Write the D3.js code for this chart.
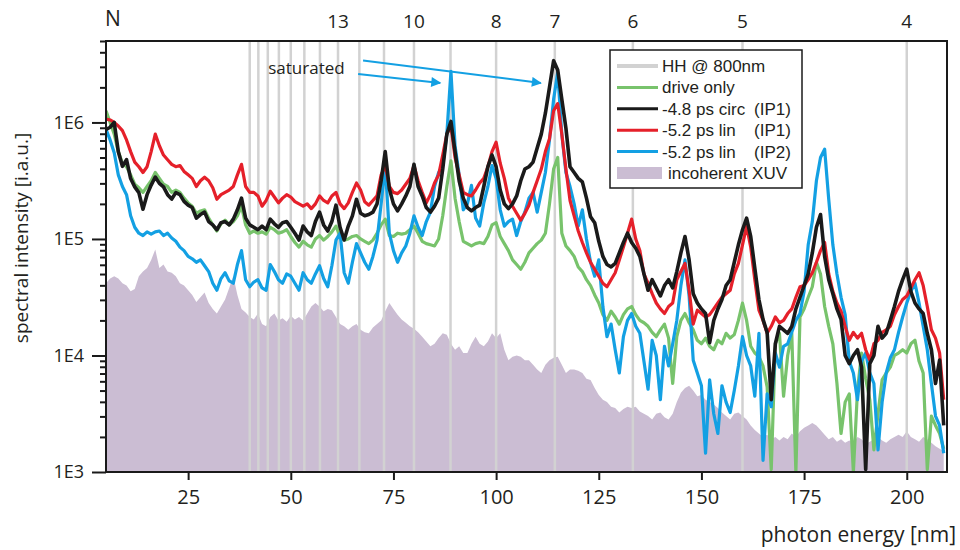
<!DOCTYPE html>
<html>
<head>
<meta charset="utf-8">
<script src="https://cdn.jsdelivr.net/npm/d3@7"></script>
<style>
  body { margin: 0; background: #fff; }
  text { font-family: "Open Sans", "Noto Sans", sans-serif; fill: #231f20; }
  .legend text { font-family: "Liberation Sans", Arial, sans-serif; }
</style>
</head>
<body>
<div id="chart"></div>
<script>
// wavelength grid: one sample per nm, starting at 5 nm
var nmStart = 5;

// spectra, spectral intensity [i.a.u.] for 5..209 nm
var driveOnly = [
  1.26e6, 1.0e6, 7.94e5, 5.62e5, 4.47e5, 4.17e5, 3.55e5, 2.95e5, 2.75e5, 2.51e5,
  2.82e5, 3.16e5, 3.72e5, 3.31e5, 2.95e5, 2.82e5, 2.51e5, 2.63e5, 2.51e5, 2.24e5,
  2.04e5, 1.91e5, 1.66e5, 1.74e5, 1.78e5, 1.51e5, 1.32e5, 1.17e5, 1.35e5, 1.45e5,
  1.32e5, 1.41e5, 1.58e5, 1.91e5, 1.32e5, 1.12e5, 1.17e5, 1.12e5, 1.15e5, 1.1e5,
  1.26e5, 1.2e5, 1.12e5, 1.15e5, 1.2e5, 1.05e5, 9.33e4, 8.51e4, 9.55e4, 8.91e4,
  8.51e4, 1.0e5, 1.07e5, 9.77e4, 1.05e5, 1.15e5, 1.29e5, 1.05e5, 9.77e4, 1.0e5,
  1.05e5, 1.07e5, 1.0e5, 9.55e4, 9.12e4, 9.77e4, 1.12e5, 1.32e5, 1.48e5, 1.07e5,
  1.05e5, 1.12e5, 1.1e5, 1.12e5, 1.2e5, 1.29e5, 1.12e5, 9.55e4, 9.12e4, 8.91e4,
  8.71e4, 1.0e5, 1.58e5, 2.82e5, 4.68e5, 2.24e5, 1.41e5, 9.55e4, 9.12e4, 8.71e4,
  9.12e4, 9.33e4, 9.12e4, 1.05e5, 1.32e5, 1.38e5, 1.05e5, 9.12e4, 7.94e4, 6.61e4,
  6.03e4, 5.5e4, 6.31e4, 7.59e4, 8.32e4, 9.12e4, 9.77e4, 1.12e5, 2.0e5, 3.98e5,
  5.01e5, 1.12e5, 8.71e4, 7.94e4, 7.08e4, 5.75e4, 5.25e4, 4.47e4, 3.98e4, 3.31e4,
  2.82e4, 2.24e4, 2.0e4, 2.4e4, 2.14e4, 1.86e4, 2.24e4, 2.51e4, 2.63e4, 2.24e4,
  2.0e4, 1.91e4, 1.78e4, 1.58e4, 1.45e4, 1.66e4, 1.86e4, 1.41e4, 5.75e3, 1.45e4,
  2.0e4, 2.29e4, 1.91e4, 1.66e4, 1.35e4, 1.26e4, 1.41e4, 1.2e4, 1.12e4, 1.35e4,
  1.26e4, 1.55e4, 1.41e4, 1.51e4, 2.0e4, 2.82e4, 2.0e4, 1.2e4, 1.05e4, 9.77e3,
  8.13e3, 5.37e3, 1.05e3, 1.26e4, 1.55e4, 4.47e3, 1.0e4, 1.55e4, 1.0e3, 2.14e4,
  2.51e4, 3.16e4, 3.89e4, 6.31e4, 5.01e4, 2.63e4, 1.78e4, 1.26e4, 5.75e3, 2.14e3,
  3.98e3, 4.68e3, 1.0e3, 5.01e3, 1.05e4, 6.31e3, 4.17e3, 1.55e3, 3.16e3, 6.17e3,
  7.08e3, 7.94e3, 1.0e4, 1.05e4, 1.12e4, 1.05e4, 1.26e4, 1.35e4, 8.91e3, 7.08e3,
  1.05e3, 3.02e3, 2.51e3, 2.14e3, 1.58e3
];

var circIP1 = [
  8.7e5, 9.1e5, 1.0e6, 5.6e5, 4.2e5, 4.8e5, 3.3e5, 2.8e5, 2.5e5, 1.8e5,
  2.4e5, 2.9e5, 3.4e5, 3.0e5, 2.8e5, 2.4e5, 2.2e5, 2.5e5, 2.4e5, 2.1e5,
  1.95e5, 1.86e5, 1.51e5, 1.62e5, 1.7e5, 1.41e5, 1.32e5, 1.2e5, 1.38e5, 1.41e5,
  1.32e5, 1.48e5, 1.78e5, 2.24e5, 1.51e5, 1.32e5, 1.26e5, 1.2e5, 1.29e5, 1.2e5,
  1.48e5, 1.35e5, 1.26e5, 1.38e5, 1.41e5, 1.26e5, 1.12e5, 9.8e4, 1.29e5, 1.15e5,
  1.07e5, 1.41e5, 1.7e5, 1.32e5, 1.17e5, 1.41e5, 1.95e5, 1.26e5, 9.8e4, 1.29e5,
  1.58e5, 2.19e5, 1.66e5, 1.58e5, 1.62e5, 1.7e5, 2.0e5, 3.16e5, 5.62e5, 2.69e5,
  2.0e5, 1.74e5, 2.0e5, 2.34e5, 2.82e5, 4.37e5, 2.82e5, 2.34e5, 1.86e5, 1.7e5,
  1.91e5, 2.24e5, 3.98e5, 7.94e5, 1.02e6, 5.62e5, 3.16e5, 2.24e5, 1.86e5, 1.74e5,
  1.86e5, 1.95e5, 2.82e5, 4.17e5, 5.25e5, 4.17e5, 2.63e5, 2.0e5, 1.82e5, 2.0e5,
  2.34e5, 3.16e5, 3.98e5, 4.17e5, 4.57e5, 6.03e5, 7.94e5, 1.2e6, 2.0e6, 3.39e6,
  2.82e6, 1.58e6, 8.91e5, 4.17e5, 3.72e5, 3.31e5, 3.09e5, 2.24e5, 1.55e5, 1.38e5,
  9.55e4, 7.08e4, 6.03e4, 5.75e4, 6.17e4, 7.59e4, 9.33e4, 1.12e5, 9.33e4, 8.32e4,
  7.08e4, 5.01e4, 3.63e4, 4.47e4, 3.8e4, 3.24e4, 3.98e4, 4.47e4, 3.8e4, 5.25e4,
  7.59e4, 1.05e5, 6.61e4, 3.39e4, 2.82e4, 2.51e4, 2.29e4, 1.29e4, 2.0e4, 2.51e4,
  3.02e4, 3.98e4, 4.47e4, 6.31e4, 8.91e4, 1.2e5, 1.51e5, 1.05e5, 5.62e4, 3.02e4,
  2.04e4, 1.58e4, 4.17e3, 1.26e4, 1.78e4, 1.66e4, 1.55e4, 1.78e4, 2.51e4, 3.16e4,
  3.98e4, 5.01e4, 7.59e4, 1.26e5, 1.62e5, 7.08e4, 4.47e4, 3.39e4, 2.51e4, 2.04e4,
  1.0e4, 8.51e3, 1.0e4, 1.12e4, 7.94e3, 1.05e3, 8.51e3, 1.0e4, 1.78e4, 1.41e4,
  1.55e4, 2.0e4, 2.63e4, 3.55e4, 4.47e4, 5.5e4, 3.55e4, 2.82e4, 2.51e4, 2.29e4,
  1.55e4, 1.12e4, 5.75e3, 9.12e3, 2.51e3
];

var linIP1 = [
  1.07e6, 1.05e6, 1.0e6, 9.33e5, 8.51e5, 7.08e5, 5.62e5, 4.57e5, 4.17e5, 3.72e5,
  4.17e5, 5.62e5, 7.94e5, 6.31e5, 5.25e5, 4.79e5, 4.37e5, 4.17e5, 4.27e5, 3.8e5,
  3.55e5, 3.31e5, 2.82e5, 3.16e5, 3.39e5, 3.16e5, 2.75e5, 2.19e5, 2.4e5, 2.51e5,
  2.63e5, 2.82e5, 3.55e5, 4.37e5, 2.82e5, 2.51e5, 2.51e5, 2.34e5, 1.91e5, 2.14e5,
  2.57e5, 2.29e5, 2.04e5, 2.24e5, 2.4e5, 2.29e5, 2.09e5, 2.0e5, 1.91e5, 2.0e5,
  1.82e5, 2.0e5, 2.34e5, 2.14e5, 2.04e5, 2.34e5, 2.51e5, 2.0e5, 1.82e5, 2.04e5,
  2.51e5, 3.02e5, 2.63e5, 2.09e5, 1.95e5, 2.14e5, 2.34e5, 3.55e5, 4.27e5, 2.82e5,
  2.51e5, 2.45e5, 2.63e5, 2.95e5, 3.31e5, 4.27e5, 3.16e5, 2.51e5, 2.04e5, 2.4e5,
  3.02e5, 3.55e5, 5.25e5, 7.94e5, 9.33e5, 5.01e5, 3.55e5, 2.51e5, 2.4e5, 2.34e5,
  2.63e5, 3.02e5, 3.31e5, 4.17e5, 5.62e5, 6.76e5, 4.47e5, 3.31e5, 2.24e5, 1.91e5,
  1.66e5, 1.45e5, 1.66e5, 1.95e5, 2.51e5, 3.16e5, 3.98e5, 5.62e5, 7.24e5, 1.26e6,
  1.45e6, 7.94e5, 3.98e5, 2.14e5, 1.58e5, 1.17e5, 9.33e4, 7.59e4, 6.31e4, 5.5e4,
  4.79e4, 4.17e4, 3.89e4, 4.47e4, 5.13e4, 6.61e4, 8.51e4, 1.12e5, 1.48e5, 1.0e5,
  7.94e4, 5.01e4, 4.17e4, 3.39e4, 2.82e4, 2.51e4, 2.29e4, 2.63e4, 2.82e4, 4.47e4,
  5.25e4, 6.17e4, 3.63e4, 1.86e4, 2.45e4, 2.29e4, 2.14e4, 2.24e4, 2.51e4, 2.82e4,
  3.16e4, 3.39e4, 3.63e4, 5.01e4, 6.17e4, 8.91e4, 1.29e5, 8.51e4, 4.47e4, 2.45e4,
  2.0e4, 1.55e4, 1.78e4, 2.14e4, 1.91e4, 2.0e4, 2.29e4, 2.51e4, 3.16e4, 3.89e4,
  3.98e4, 4.47e4, 5.13e4, 6.31e4, 7.94e4, 9.33e4, 5.01e4, 3.55e4, 2.82e4, 2.4e4,
  1.78e4, 1.35e4, 1.58e4, 1.41e4, 1.55e4, 1.12e4, 9.12e3, 1.26e4, 1.35e4, 1.58e4,
  1.66e4, 1.78e4, 2.24e4, 2.63e4, 3.02e4, 3.24e4, 3.8e4, 4.47e4, 5.13e4, 3.98e4,
  2.63e4, 1.66e4, 1.41e4, 1.05e4, 4.17e3
];

var linIP2 = [
  8.71e5, 7.08e5, 5.5e5, 3.55e5, 2.82e5, 2.4e5, 1.58e5, 1.26e5, 1.12e5, 1.07e5,
  1.15e5, 1.1e5, 1.15e5, 1.17e5, 1.07e5, 1.12e5, 1.02e5, 9.55e4, 8.51e4, 7.94e4,
  7.08e4, 6.76e4, 6.31e4, 6.61e4, 5.89e4, 5.25e4, 4.17e4, 3.63e4, 4.57e4, 5.13e4,
  4.37e4, 4.17e4, 6.03e4, 7.94e4, 4.47e4, 3.89e4, 4.27e4, 4.47e4, 3.8e4, 3.63e4,
  6.03e4, 5.25e4, 4.47e4, 4.17e4, 5.01e4, 4.79e4, 4.17e4, 3.63e4, 5.13e4, 4.47e4,
  4.17e4, 5.01e4, 5.89e4, 4.57e4, 3.89e4, 5.89e4, 9.77e4, 1.12e5, 5.13e4, 4.17e4,
  6.31e4, 9.12e4, 7.59e4, 6.31e4, 5.5e4, 7.08e4, 9.77e4, 2.0e5, 4.27e5, 1.12e5,
  7.94e4, 6.31e4, 7.59e4, 8.71e4, 1.12e5, 1.58e5, 1.26e5, 1.07e5, 1.41e5, 1.7e5,
  2.82e5, 3.72e5, 4.27e5, 7.94e5, 2.75e6, 6.31e5, 3.55e5, 1.78e5, 2.0e5, 2.88e5,
  1.51e5, 1.29e5, 2.04e5, 2.82e5, 4.27e5, 3.31e5, 1.78e5, 1.29e5, 1.41e5, 1.48e5,
  1.07e5, 1.41e5, 1.7e5, 2.24e5, 2.51e5, 1.7e5, 2.51e5, 3.72e5, 7.08e5, 1.58e6,
  2.69e6, 7.94e5, 3.72e5, 2.82e5, 2.0e5, 1.29e5, 1.78e5, 1.0e5, 6.31e4, 4.79e4,
  6.61e4, 2.63e4, 1.45e4, 1.86e4, 1.12e4, 7.08e3, 1.45e4, 2.0e4, 2.29e4, 1.78e4,
  1.55e4, 8.91e3, 5.13e3, 1.35e4, 1.0e4, 4.17e3, 1.2e4, 8.13e3, 1.26e4, 2.0e4,
  3.98e4, 6.61e4, 3.24e4, 9.12e3, 7.08e3, 5.5e3, 1.45e3, 6.17e3, 3.16e3, 2.14e3,
  5.5e3, 3.98e3, 3.24e3, 5.01e3, 8.13e3, 1.45e4, 1.0e4, 8.13e3, 4.47e3, 1.55e4,
  1.26e3, 4.68e3, 3.63e3, 1.05e4, 7.94e3, 1.2e4, 1.26e4, 1.58e4, 2.0e4, 2.29e4,
  3.55e4, 8.91e4, 1.41e5, 3.16e5, 5.01e5, 5.89e5, 2.19e5, 8.91e4, 5.01e4, 3.16e4,
  2.24e4, 8.91e3, 7.08e3, 4.17e3, 8.91e3, 1.05e4, 7.08e3, 5.75e3, 1.55e3, 3.98e3,
  7.08e3, 9.55e3, 1.12e4, 1.58e4, 2.14e4, 2.82e4, 3.55e4, 4.17e4, 2.82e4, 1.78e4,
  1.12e4, 5.75e3, 3.02e3, 2.51e3, 1.45e3
];

var incoherentXUV = [
  4.17e4, 4.57e4, 4.79e4, 4.57e4, 4.17e4, 3.98e4, 3.55e4, 3.72e4, 4.79e4, 5.25e4,
  5.62e4, 6.61e4, 8.13e4, 5.62e4, 6.03e4, 5.25e4, 5.13e4, 4.79e4, 4.17e4, 3.98e4,
  3.63e4, 3.31e4, 2.88e4, 3.16e4, 3.47e4, 2.82e4, 2.51e4, 2.29e4, 2.63e4, 3.02e4,
  3.8e4, 4.79e4, 3.31e4, 2.51e4, 2.34e4, 2.14e4, 2.04e4, 2.29e4, 1.86e4, 1.78e4,
  2.14e4, 2.29e4, 2.0e4, 2.09e4, 1.95e4, 2.19e4, 2.04e4, 2.14e4, 2.0e4, 2.29e4,
  2.63e4, 2.82e4, 2.63e4, 2.4e4, 2.51e4, 2.45e4, 2.14e4, 1.86e4, 1.78e4, 1.66e4,
  1.78e4, 1.86e4, 1.66e4, 1.58e4, 1.55e4, 1.74e4, 1.86e4, 2.0e4, 2.4e4, 2.82e4,
  2.51e4, 2.24e4, 2.04e4, 1.91e4, 1.78e4, 1.7e4, 1.58e4, 1.45e4, 1.32e4, 1.2e4,
  1.26e4, 1.41e4, 1.55e4, 1.51e4, 1.26e4, 1.12e4, 1.2e4, 1.05e4, 1.05e4, 1.26e4,
  1.45e4, 1.26e4, 1.2e4, 1.32e4, 1.55e4, 1.41e4, 1.55e4, 1.12e4, 9.12e3, 9.77e3,
  1.0e4, 9.77e3, 9.12e3, 9.12e3, 8.32e3, 7.59e3, 7.08e3, 8.32e3, 9.12e3, 9.55e3,
  9.77e3, 8.32e3, 7.08e3, 7.59e3, 7.59e3, 7.41e3, 7.08e3, 6.31e3, 6.17e3, 5.25e3,
  4.57e3, 4.17e3, 3.98e3, 3.63e3, 3.55e3, 3.24e3, 3.47e3, 3.63e3, 3.55e3, 3.63e3,
  3.31e3, 3.16e3, 3.02e3, 2.82e3, 3.16e3, 3.24e3, 2.95e3, 2.82e3, 3.16e3, 3.98e3,
  4.79e3, 5.25e3, 5.5e3, 5.01e3, 4.47e3, 4.57e3, 4.17e3, 3.98e3, 3.8e3, 3.55e3,
  3.24e3, 3.02e3, 2.82e3, 3.16e3, 3.24e3, 3.02e3, 2.82e3, 2.51e3, 2.29e3, 2.14e3,
  2.0e3, 2.09e3, 1.91e3, 2.0e3, 1.86e3, 2.0e3, 1.91e3, 2.14e3, 2.0e3, 2.24e3,
  2.4e3, 2.51e3, 2.63e3, 2.51e3, 2.29e3, 2.09e3, 1.91e3, 2.0e3, 1.82e3, 1.91e3,
  1.78e3, 1.86e3, 1.78e3, 2.0e3, 1.91e3, 1.74e3, 1.82e3, 1.91e3, 2.0e3, 1.86e3,
  1.78e3, 1.91e3, 2.0e3, 2.09e3, 2.0e3, 2.24e3, 2.0e3, 1.91e3, 1.82e3, 2.0e3,
  1.91e3, 1.78e3, 1.66e3, 1.58e3, 1.51e3
];

// harmonics of 800 nm (wavelength in nm) and the orders labelled on top
var hhWavelengths = [200, 160, 133.3, 114.3, 100, 88.9, 80, 72.7, 66.7, 61.5, 57.1, 53.3, 50, 47.1, 44.4, 42.1, 40];
var orderLabels = ["13", "10", "8", "7", "6", "5", "4"];
var orderLabelNm = [61.5, 80, 100, 114.3, 133.3, 160, 200];

var xTicks = [25, 50, 75, 100, 125, 150, 175, 200];
var yTicks = [1e3, 1e4, 1e5, 1e6];

var seriesNames = ["HH @ 800nm", "drive only", "-4.8 ps circ", "-5.2 ps lin", "-5.2 ps lin", "incoherent XUV"];
var seriesTags = ["", "", "(IP1)", "(IP1)", "(IP2)", ""];
var seriesColors = ["#d2d2d2", "#78c36c", "#1a1a1a", "#e5202a", "#13a0e3", "#cbbdd3"];

// Set up chart
var svgWidth = 960;
var svgHeight = 550;
var margin = { top: 41, right: 13, bottom: 78, left: 106 };
var width = svgWidth - margin.left - margin.right;
var height = svgHeight - margin.top - margin.bottom;

var svg = d3.select("#chart")
  .append("svg")
  .attr("width", svgWidth)
  .attr("height", svgHeight);

var chartGroup = svg.append("g")
  .attr("transform", `translate(${margin.left}, ${margin.top})`);

// Scales
var xScale = d3.scaleLinear().domain([5, 209.8]).range([0, width]);
var yScale = d3.scaleLog().domain([1e3, 5e6]).range([height, 0]);

chartGroup.append("clipPath").attr("id", "plotClip")
  .append("rect").attr("width", width).attr("height", height);

var plot = chartGroup.append("g").attr("clip-path", "url(#plotClip)");

function toPoints(values) {
  return values.map((v, i) => ({ nm: nmStart + i, v: v }));
}

// incoherent XUV background
var area = d3.area()
  .x(d => xScale(d.nm))
  .y0(height)
  .y1(d => yScale(d.v));

plot.append("path")
  .datum(toPoints(incoherentXUV))
  .attr("d", area)
  .attr("fill", seriesColors[5]);

// harmonic lines
plot.selectAll(".hh")
  .data(hhWavelengths)
  .enter()
  .append("line")
  .attr("x1", d => xScale(d))
  .attr("x2", d => xScale(d))
  .attr("y1", 0)
  .attr("y2", height)
  .attr("stroke", seriesColors[0])
  .attr("stroke-width", 2.5);

// spectra
var line = d3.line()
  .x(d => xScale(d.nm))
  .y(d => yScale(Math.max(d.v, 800)));

var spectra = [
  { values: driveOnly, color: seriesColors[1], w: 3.2 },
  { values: linIP2, color: seriesColors[4], w: 3.2 },
  { values: linIP1, color: seriesColors[3], w: 3.2 },
  { values: circIP1, color: seriesColors[2], w: 3.6 }
];

spectra.forEach(function(s) {
  plot.append("path")
    .datum(toPoints(s.values))
    .attr("d", line)
    .attr("fill", "none")
    .attr("stroke", s.color)
    .attr("stroke-width", s.w)
    .attr("stroke-linejoin", "round");
});

// frame
chartGroup.append("rect")
  .attr("width", width)
  .attr("height", height)
  .attr("fill", "none")
  .attr("stroke", "#1a1a1a")
  .attr("stroke-width", 2);

// bottom axis
var bottomAxis = d3.axisBottom(xScale).tickValues(xTicks).tickSize(8).tickSizeOuter(0).tickPadding(10);
var bx = chartGroup.append("g").attr("transform", `translate(0, ${height})`).call(bottomAxis);
bx.select(".domain").remove();
bx.selectAll("line").attr("stroke", "#1a1a1a").attr("stroke-width", 2);
bx.selectAll("text").attr("font-size", "20px").attr("font-family", "Open Sans");

// left axis: majors + minors
var minorTicks = [];
yTicks.forEach(function(t) {
  [2, 3, 4, 5, 6, 7, 8, 9].forEach(function(m) {
    if (t * m <= 5e6) minorTicks.push(t * m);
  });
});
var leftMinor = d3.axisLeft(yScale).tickValues(minorTicks).tickSize(6).tickFormat("");
var lm = chartGroup.append("g").call(leftMinor);
lm.select(".domain").remove();
lm.selectAll("line").attr("stroke", "#1a1a1a").attr("stroke-width", 2);

var leftAxis = d3.axisLeft(yScale).tickValues(yTicks).tickSize(14).tickPadding(8)
  .tickFormat(d => "1E" + Math.round(Math.log10(d)));
var ly = chartGroup.append("g").call(leftAxis);
ly.select(".domain").remove();
ly.selectAll("line").attr("stroke", "#1a1a1a").attr("stroke-width", 2);
ly.selectAll("text").attr("font-size", "18px").attr("font-family", "Open Sans");

// top order labels
chartGroup.selectAll(".order")
  .data(orderLabels)
  .enter()
  .append("text")
  .attr("x", (d, i) => xScale(orderLabelNm[i]))
  .attr("y", -13)
  .attr("text-anchor", "middle")
  .attr("font-size", "19px")
  .text(d => d);

chartGroup.append("text")
  .attr("x", 7)
  .attr("y", -15)
  .attr("text-anchor", "middle")
  .attr("font-size", "21px")
  .text("N");

// axis titles
chartGroup.append("text")
  .attr("x", width + 9)
  .attr("y", height + 70)
  .attr("text-anchor", "end")
  .attr("font-size", "21px")
  .text("photon energy [nm]");

chartGroup.append("text")
  .attr("transform", "rotate(-90)")
  .attr("x", -(238 - margin.top))
  .attr("y", -78)
  .attr("text-anchor", "middle")
  .attr("font-size", "19px")
  .text("spectral intensity [i.a.u.]");

// "saturated" annotation
var blue = seriesColors[4];
svg.append("defs").append("marker")
  .attr("id", "arrow")
  .attr("viewBox", "0 0 10 10")
  .attr("refX", 9).attr("refY", 5)
  .attr("markerWidth", 6).attr("markerHeight", 5)
  .attr("orient", "auto")
  .append("path")
  .attr("d", "M0,0 L10,5 L0,10 z")
  .attr("fill", blue);

chartGroup.append("text")
  .attr("x", xScale(44.5))
  .attr("y", yScale(2.6e6))
  .attr("font-size", "17px")
  .text("saturated");

chartGroup.append("line")
  .attr("x1", xScale(67.6)).attr("y1", yScale(3.4e6))
  .attr("x2", xScale(110.9)).attr("y2", yScale(2.18e6))
  .attr("stroke", blue).attr("stroke-width", 2)
  .attr("marker-end", "url(#arrow)");

chartGroup.append("line")
  .attr("x1", xScale(66.4)).attr("y1", yScale(2.6e6))
  .attr("x2", xScale(86.4)).attr("y2", yScale(2.18e6))
  .attr("stroke", blue).attr("stroke-width", 2)
  .attr("marker-end", "url(#arrow)");

// legend
var legend = svg.append("g").attr("class", "legend").attr("transform", "translate(610, 50)");
legend.append("rect")
  .attr("width", 192).attr("height", 138)
  .attr("fill", "#fff").attr("stroke", "#1a1a1a").attr("stroke-width", 1.5);

var rowY = d3.scalePoint().domain(d3.range(seriesNames.length)).range([16, 123]);

seriesNames.forEach(function(name, i) {
  var yy = rowY(i);
  if (i === 5) {
    legend.append("rect").attr("x", 7).attr("y", yy - 6).attr("width", 45).attr("height", 12)
      .attr("fill", seriesColors[i]);
  } else {
    legend.append("line").attr("x1", 7).attr("x2", 48).attr("y1", yy).attr("y2", yy)
      .attr("stroke", seriesColors[i]).attr("stroke-width", i === 0 ? 4 : 3);
  }
  legend.append("text").attr("x", i === 5 ? 58 : 52).attr("y", yy + 6)
    .attr("font-size", "17px").text(name);
  if (seriesTags[i]) {
    legend.append("text").attr("x", 144).attr("y", yy + 6)
      .attr("font-size", "17px").text(seriesTags[i]);
  }
});
</script>
</body>
</html>
